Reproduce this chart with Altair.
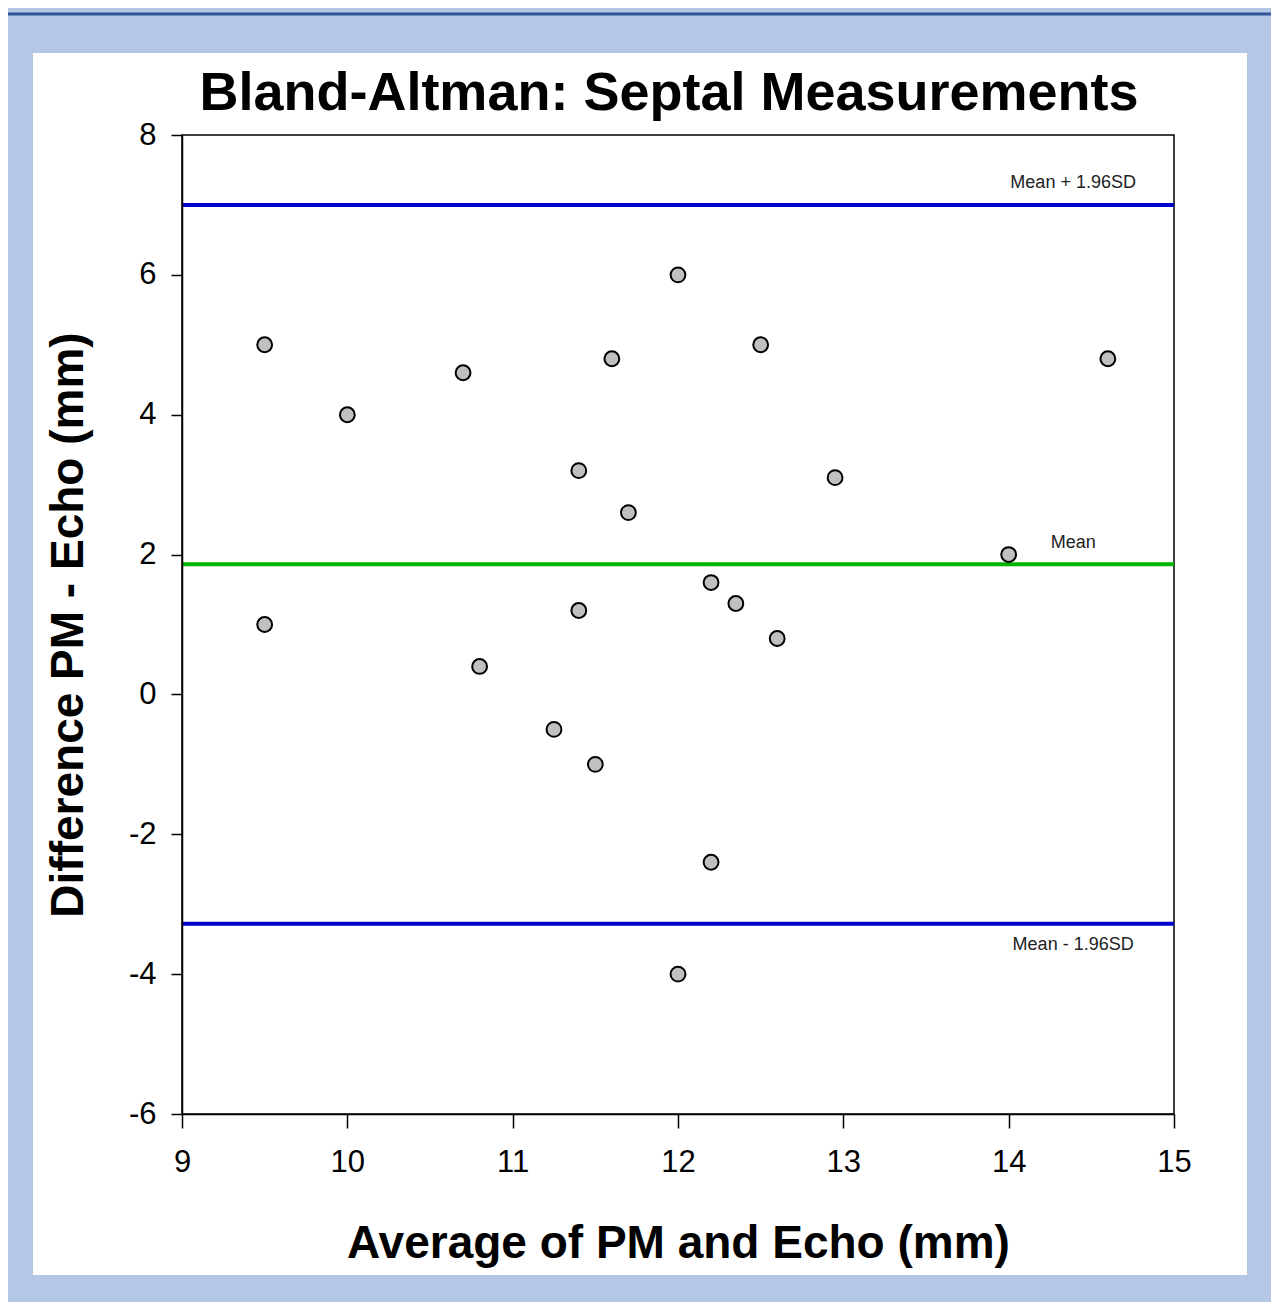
import altair as alt
import pandas as pd

# Data
avg_mm = [9.5, 9.5, 10.0, 10.7, 10.8, 11.25, 11.4, 11.4, 11.5, 11.6, 11.7,
          12.0, 12.0, 12.2, 12.2, 12.35, 12.5, 12.6, 12.95, 14.0, 14.6]
diff_mm = [5.0, 1.0, 4.0, 4.6, 0.4, -0.5, 3.2, 1.2, -1.0, 4.8, 2.6,
           6.0, -4.0, 1.6, -2.4, 1.3, 5.0, 0.8, 3.1, 2.0, 4.8]

line_names = ["Mean + 1.96SD", "Mean", "Mean - 1.96SD"]
line_values = [7.0, 1.86, -3.28]
line_colors = ["#0000CC", "#00B400", "#0000CC"]
label_x = [14.39, 14.39, 14.39]
label_y = [7.31, 2.17, -3.58]
label_text = ["Mean + 1.96SD", "Mean", "Mean - 1.96SD"]

x_ticks = [9, 10, 11, 12, 13, 14, 15]
y_ticks = [-6, -4, -2, 0, 2, 4, 6, 8]

FONT = "Liberation Sans"
W, H = 992, 979
PAD = {"left": 174, "top": 127, "right": 97, "bottom": 188}

pts = pd.DataFrame({"avg": avg_mm, "diff": diff_mm})
lines = pd.DataFrame({"name": line_names, "y": line_values, "color": line_colors})
labels = pd.DataFrame({"x": label_x, "y": label_y, "text": label_text})
one = pd.DataFrame({"k": [0]})

xscale = alt.Scale(domain=[9, 15], nice=False, zero=False)
yscale = alt.Scale(domain=[-6, 8], nice=False, zero=False)

outer = alt.Chart(one).mark_rect(fill="#B4C7E7", stroke="#2F5597", strokeWidth=3).encode(
    x=alt.value(-PAD["left"] - 6), x2=alt.value(W + PAD["right"] + 6),
    y=alt.value(-PAD["top"] + 6), y2=alt.value(H + PAD["bottom"] + 6),
)
panel = alt.Chart(one).mark_rect(fill="white").encode(
    x=alt.value(-149), x2=alt.value(1065), y=alt.value(-82), y2=alt.value(1140)
)
frame = alt.Chart(one).mark_rect(fill=None, stroke="black", strokeWidth=1.5).encode(
    x=alt.value(0), x2=alt.value(W), y=alt.value(0), y2=alt.value(H)
)

rules = alt.Chart(lines).mark_rule(strokeWidth=4).encode(
    y=alt.Y("y:Q", scale=yscale),
    color=alt.Color("color:N", scale=None, legend=None),
)

texts = alt.Chart(labels).mark_text(font=FONT, fontSize=18, color="#222222",
                                    align="center", baseline="middle").encode(
    x=alt.X("x:Q", scale=xscale),
    y=alt.Y("y:Q", scale=yscale),
    text="text:N",
)

points = alt.Chart(pts).mark_circle(size=220, color="#C0C0C0", opacity=1,
                                    stroke="black", strokeWidth=2).encode(
    x=alt.X("avg:Q", scale=xscale,
            axis=alt.Axis(title="Average of PM and Echo (mm)", values=x_ticks,
                          labelExpr="datum.value + ''", labelFlush=False,
                          tickSize=14, labelPadding=19, labelFontSize=31, zindex=2,
                          titleX=W / 2, titleY=129, titleBaseline="middle",
                          titleAlign="center")),
    y=alt.Y("diff:Q", scale=yscale,
            axis=alt.Axis(title="Difference PM - Echo (mm)", values=y_ticks,
                          labelExpr="datum.value + ''", labelFlush=False,
                          tickSize=11, labelPadding=15, labelFontSize=31, zindex=2,
                          titleX=-114, titleY=H / 2, titleAngle=270,
                          titleBaseline="middle", titleAlign="center")),
)

chart = alt.layer(outer, panel, frame, rules, texts, points).properties(
    width=W, height=H,
    autosize=alt.AutoSizeParams(type="none"),
    padding=PAD,
    background="#B4C7E7",
    title=alt.TitleParams("Bland-Altman: Septal Measurements", font=FONT, fontSize=54,
                          fontWeight="bold", color="black", anchor="middle",
                          frame="group", offset=28, dy=136, dx=-9),
).configure_view(stroke=None).configure_axis(
    labelFont=FONT, titleFont=FONT, labelColor="black", titleColor="black",
    titleFontSize=46, titleFontWeight="bold", grid=False,
    domainColor="black", domainWidth=1.5, tickColor="black", tickWidth=1.5,
    zindex=2,
)

chart.save("out.html", embed_options={"renderer": "svg", "actions": False})
